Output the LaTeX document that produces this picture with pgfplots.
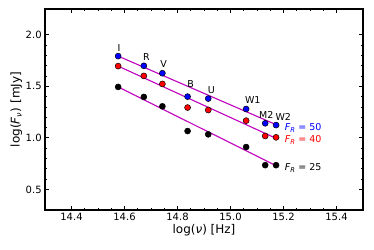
\documentclass[border=0pt]{standalone}
\usepackage{pgfplots}
\pgfplotsset{compat=1.18}
\usepackage{fontspec}
\setmainfont{DejaVu Sans}
\definecolor{mag}{rgb}{0.75,0,0.75}
\begin{document}
\fontsize{9.5}{11}\selectfont
\begin{tikzpicture}[x=1pt,y=1pt]
\useasboundingbox (-45,-39) rectangle (329,201+9);
\begin{axis}[
  scale only axis, width=318pt, height=201pt,
  xmin=14.3, xmax=15.5, ymin=0.3, ymax=2.25,
  xtick={14.4,14.6,14.8,15.0,15.2,15.4},
  ytick={0.5,1.0,1.5,2.0},
  minor x tick num=3, minor y tick num=4,
  xticklabels={14.4,14.6,14.8,15.0,15.2,15.4},
  yticklabels={0.5,1.0,1.5,2.0},
  tick align=inside, ticks=both,
  xtick pos=both, ytick pos=both,
  major tick length=4pt, minor tick length=2pt,
  every major tick/.style={line width=0.9pt,black},
  every minor tick/.style={line width=0.6pt,black},
  axis line style={line width=1.4pt},
  tick label style={font=\fontsize{10}{12}\selectfont},
  label style={font=\fontsize{12}{14}\selectfont},
  xlabel={log(\textit{ν}) [Hz]},
  ylabel={log(\textit{F}\textsubscript{\textit{ν}}) [mJy]},
  xlabel style={yshift=3pt},
  ylabel style={yshift=-3pt},
  clip=false,
]
% fit lines
\addplot[mag, line width=1.1pt] coordinates {(14.576,1.793) (15.172,1.128)};
\addplot[mag, line width=1.1pt] coordinates {(14.576,1.696) (15.172,0.995)};
\addplot[mag, line width=1.1pt] coordinates {(14.576,1.494) (15.172,0.730)};
% points
\addplot[only marks, mark=*, mark size=3pt, mark options={fill=blue, draw=black, line width=0.5pt}] coordinates {
(14.576,1.793) (14.673,1.699) (14.743,1.627) (14.838,1.400) (14.916,1.381) (15.059,1.280) (15.131,1.141) (15.172,1.124)};
\addplot[only marks, mark=*, mark size=3pt, mark options={fill=red, draw=black, line width=0.5pt}] coordinates {
(14.576,1.696) (14.673,1.601) (14.743,1.523) (14.838,1.294) (14.916,1.270) (15.059,1.167) (15.131,1.018) (15.172,1.005)};
\addplot[only marks, mark=*, mark size=3pt, mark options={fill=black, draw=black, line width=0.5pt}] coordinates {
(14.576,1.494) (14.673,1.397) (14.743,1.306) (14.838,1.066) (14.916,1.034) (15.059,0.911) (15.131,0.735) (15.172,0.735)};
% filter labels
\node at (axis cs:14.579,1.871) {I};
\node at (axis cs:14.683,1.783) {R};
\node at (axis cs:14.748,1.715) {V};
\node at (axis cs:14.850,1.520) {B};
\node at (axis cs:14.928,1.462) {U};
\node at (axis cs:15.084,1.362) {W1};
\node at (axis cs:15.135,1.226) {M2};
\node at (axis cs:15.199,1.206) {W2};
\node[anchor=west, text=blue, inner sep=0pt] at (axis cs:15.204,1.095) {\textit{F}\textsubscript{\textit{R}} = 50};
\node[anchor=west, text=red, inner sep=0pt] at (axis cs:15.204,0.982) {\textit{F}\textsubscript{\textit{R}} = 40};
\node[anchor=west, text=black, inner sep=0pt] at (axis cs:15.204,0.706) {\textit{F}\textsubscript{\textit{R}} = 25};
\end{axis}
\end{tikzpicture}
\end{document}
